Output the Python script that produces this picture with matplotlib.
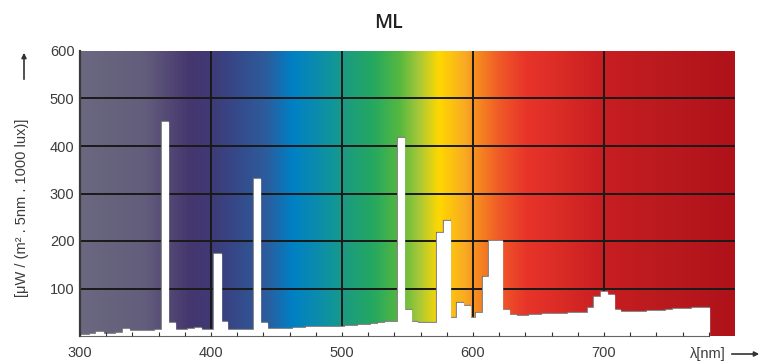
import numpy as np
import matplotlib
matplotlib.use("Agg")
import matplotlib.pyplot as plt

plt.rcParams["font.family"] = ["Liberation Sans", "DejaVu Sans"]

# spectral power distribution, 5 nm bins (centre wavelength -> value)
wavelength = np.arange(300, 781, 5)
power = [2, 3, 4, 9, 5, 5, 6, 14, 10, 10,          # 300-345
         10, 11, 12, 450, 27, 13, 13, 14, 17, 13,   # 350-395
         13, 173, 30, 13, 12, 12, 13, 330, 28, 14,  # 400-445
         14, 14, 15, 16, 17, 18, 19, 20, 20, 19,    # 450-495
         20, 21, 22, 23, 24, 26, 28, 29, 30, 417,   # 500-545
         55, 29, 28, 28, 28, 216, 243, 38, 69, 63,  # 550-595
         37, 48, 125, 199, 199, 55, 44, 42, 42, 44, # 600-645
         45, 46, 46, 47, 47, 48, 48, 48, 60, 83,    # 650-695
         93, 86, 55, 50, 50, 50, 50, 53, 53, 53,    # 700-745
         55, 57, 57, 57, 60, 60, 60]                # 750-780

x_ticks = [300, 400, 500, 600, 700]
y_ticks = [100, 200, 300, 400, 500, 600]

# background spectrum colours
stop_nm = [300, 350, 384, 399, 414, 442, 462, 478, 493, 503, 524, 544,
           559, 574, 595, 600, 620, 640, 671, 699, 747, 800]
stop_col = ["#6b6880", "#625d7b", "#45366e", "#3f3a74", "#384585", "#2d5c9c",
            "#0080c5", "#0a8ab0", "#10959a", "#1c9b80", "#25a860", "#55b840",
            "#a8c838", "#ffd800", "#f9a825", "#f7941d", "#f05a28", "#e8352a",
            "#d82a25", "#c81e22", "#b91a1e", "#b0121a"]

fig = plt.figure(figsize=(7.63, 3.63), dpi=100)
ax = fig.add_axes([80 / 763, 27 / 363, 655 / 763, 285 / 363])

grid_x = np.linspace(300, 800, 1200)
rgb = np.array([matplotlib.colors.to_rgb(c) for c in stop_col])
img = np.stack([np.interp(grid_x, stop_nm, rgb[:, i]) for i in range(3)], axis=-1)
ax.imshow(img[None, :, :], extent=[300, 800, 0, 600], aspect="auto",
          interpolation="bilinear", zorder=0)

for xv in x_ticks[1:]:
    ax.axvline(xv, color="#1a1a1a", lw=1.4, zorder=1)
for yv in y_ticks[:-1]:
    ax.axhline(yv, color="#1a1a1a", lw=1.4, zorder=1)

edges = np.append(wavelength - 2.5, wavelength[-1] + 2.5)
edges = np.clip(edges, 300, 780)
ax.stairs(power, edges, color="#777777", lw=1.6, baseline=0, zorder=2)
ax.stairs(power, edges, fill=True, color="white", baseline=0, zorder=2.05)
ax.stairs(power, edges, color="white", lw=0.9, baseline=0, zorder=2.1)

ax.set_xlim(300, 800)
ax.set_ylim(0, 600)
ax.set_xticks(x_ticks)
ax.set_xticks([v for v in range(320, 781, 20) if v not in x_ticks], minor=True)
ax.set_yticks(y_ticks)
ax.tick_params(axis="x", which="both", direction="in", length=3, width=0.8,
               color="#333333", labelsize=10.5, labelcolor="#3c3c3c", pad=7)
ax.tick_params(axis="y", length=0, labelsize=10.5, labelcolor="#3c3c3c", pad=4)
ax.xaxis.set_zorder(3)

for s in ["top", "right"]:
    ax.spines[s].set_visible(False)
ax.spines["left"].set_color("#3a3a3a")
ax.spines["left"].set_linewidth(1.6)
ax.spines["bottom"].set_color("#666666")
ax.spines["bottom"].set_linewidth(0.8)
ax.spines["bottom"].set_bounds(300, 780)

fig.text(389 / 763, 1 - 23 / 363, "ML", ha="center", va="center",
         fontsize=14, color="#222222", family="Open Sans", weight="semibold")

fig.text(22 / 763, 1 - 208 / 363, "[\u03bcW / (m\u00b2 . 5nm . 1000 lux)]",
         rotation=90, ha="center", va="center", fontsize=10.5, color="#3c3c3c")
fig.add_artist(matplotlib.patches.FancyArrowPatch(
    (24 / 763, 1 - 82 / 363), (24 / 763, 1 - 50 / 363), transform=fig.transFigure,
    arrowstyle="-|>", mutation_scale=7, lw=1.2, color="#333333"))

fig.text(708 / 763, 1 - 354 / 363, "\u03bb[nm]", ha="center", va="center",
         fontsize=10.5, color="#3c3c3c")
fig.add_artist(matplotlib.patches.FancyArrowPatch(
    (729 / 763, 1 - 354 / 363), (762 / 763, 1 - 354 / 363), transform=fig.transFigure,
    arrowstyle="-|>", mutation_scale=7, lw=1.2, color="#333333"))

fig.savefig("out.png", dpi=100)
